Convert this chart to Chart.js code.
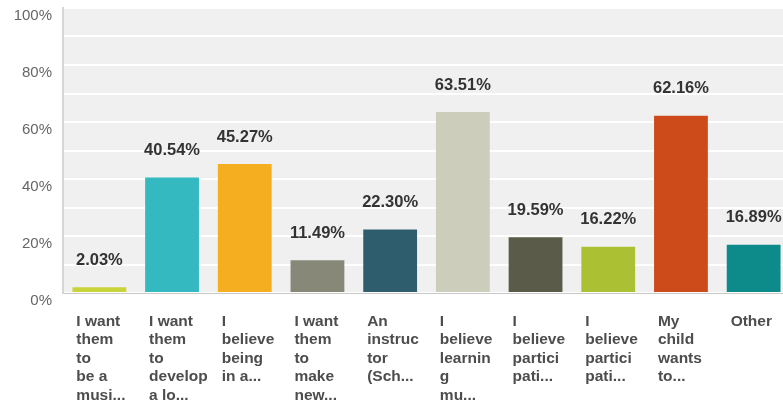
<!DOCTYPE html>
<html>
<head>
<meta charset="utf-8">
<script src="https://cdn.jsdelivr.net/npm/chart.js@4.4.1/dist/chart.umd.min.js"></script>
<style>
  html, body { margin: 0; padding: 0; background: #ffffff; overflow: hidden; }
  #wrap { position: relative; width: 790px; height: 404px; }
</style>
</head>
<body>
<div id="wrap"><canvas id="chart"></canvas></div>
<script>
// Answer choices (truncated, as shown under each column)
const categories = [
  ["I want", "them", "to", "be a", "musi..."],
  ["I want", "them", "to", "develop", "a lo..."],
  ["I", "believe", "being", "in a..."],
  ["I want", "them", "to", "make", "new..."],
  ["An", "instruc", "tor", "(Sch..."],
  ["I", "believe", "learnin", "g", "mu..."],
  ["I", "believe", "partici", "pati..."],
  ["I", "believe", "partici", "pati..."],
  ["My", "child", "wants", "to..."],
  ["Other"]
];

// Share of respondents per choice (%)
const percentages = [2.03, 40.54, 45.27, 11.49, 22.30, 63.51, 19.59, 16.22, 62.16, 16.89];

// Percentage axis ticks
const yTickLabels = ["0%", "20%", "40%", "60%", "80%", "100%"];

const barColors = [
  "#c9d43a", "#33b9bf", "#f4ae1f", "#878878", "#2e5e6e",
  "#cdcdbb", "#5b5b4a", "#abc133", "#cd4a1a", "#0d8a8a"
];

const FONT = "'Liberation Sans', Arial, sans-serif";

// Light panel behind the plot area
const panelBackground = {
  id: "panelBackground",
  beforeDraw(chart) {
    const { ctx, chartArea: a } = chart;
    ctx.save();
    ctx.fillStyle = "#f0f0f0";
    ctx.fillRect(a.left, a.top, a.right - a.left, a.bottom - a.top);
    ctx.restore();
  }
};

// Bold value labels above each bar
const valueLabels = {
  id: "valueLabels",
  afterDatasetsDraw(chart) {
    const { ctx } = chart;
    const meta = chart.getDatasetMeta(0);
    ctx.save();
    ctx.font = "bold 16.5px " + FONT;
    ctx.fillStyle = "#333333";
    ctx.textAlign = "center";
    ctx.textBaseline = "middle";
    meta.data.forEach((bar, i) => {
      ctx.fillText(percentages[i].toFixed(2) + "%", bar.x, bar.y - 27);
    });
    ctx.restore();
  }
};

new Chart(document.getElementById("chart"), {
  type: "bar",
  data: {
    labels: categories,
    datasets: [{
      data: percentages,
      backgroundColor: barColors,
      borderWidth: 0,
      categoryPercentage: 0.74,
      barPercentage: 1.0
    }]
  },
  options: {
    responsive: true,
    maintainAspectRatio: false,
    animation: false,
    layout: { padding: { top: 8, right: 0, left: 0, bottom: 0 } },
    plugins: { legend: { display: false }, tooltip: { enabled: false } },
    scales: {
      x: {
        afterFit(scale) {
          scale.height = 111;
          scale.paddingLeft = 0;
          scale.paddingRight = 0;
        },
        grid: { display: false, drawTicks: false },
        border: { display: true, color: "#c8c8c8", width: 1 },
        ticks: {
          autoSkip: false,
          maxRotation: 0,
          minRotation: 0,
          align: "start",
          labelOffset: -23,
          padding: 19,
          color: "#4d4d4d",
          font: { family: FONT, size: 15.5, weight: "bold", lineHeight: "18.5px" }
        }
      },
      y: {
        min: 0,
        max: 100,
        afterFit(scale) {
          scale.width = 63;
          scale.paddingTop = 0;
          scale.paddingBottom = 0;
        },
        grid: { color: "#ffffff", lineWidth: 2, drawTicks: false },
        border: { display: true, color: "#d6d6d6", width: 2 },
        ticks: {
          stepSize: 10,
          padding: 11,
          labelOffset: 8,
          color: "#666666",
          font: { family: FONT, size: 15 },
          callback: (v) => (v % 20 === 0 ? yTickLabels[v / 20] : "")
        }
      }
    }
  },
  plugins: [panelBackground, valueLabels]
});
</script>
</body>
</html>
